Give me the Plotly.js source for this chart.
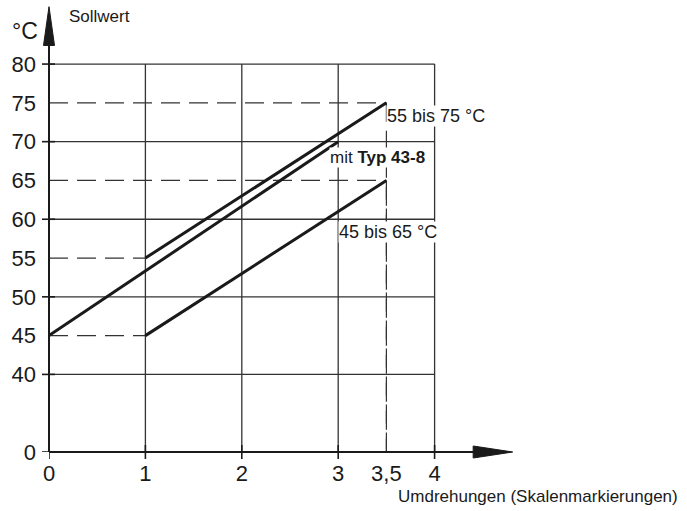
<!DOCTYPE html>
<html>
<head>
<meta charset="utf-8">
<script src="https://cdn.plot.ly/plotly-3.0.1.min.js"></script>
<style>
html,body{margin:0;padding:0;background:#fff;}
#chart{width:687px;height:511px;}
</style>
</head>
<body>
<div id="chart"></div>
<script>
// ---- data ----
const xTickVals = [0, 1, 2, 3, 3.5, 4];
const xTickText = ['0', '1', '2', '3', '3,5', '4'];
const yZeroPos = 30; // broken axis: "0" drawn at this position
const yTickVals = [30, 40, 45, 50, 55, 60, 65, 70, 75, 80];
const yTickText = ['0', '40', '45', '50', '55', '60', '65', '70', '75', '80'];
const gridX = [1, 2, 3, 4];
const gridY = [40, 50, 60, 70, 80];
const majorTicksX = [0, 1, 2, 3, 4];
const majorTicksY = [30, 40, 50, 60, 70, 80];

const seriesNames = ['55 bis 75 °C', 'mit Typ 43-8', '45 bis 65 °C'];
const seriesX = [[1, 3.5], [0, 3], [1, 3.5]];
const seriesY = [[55, 75], [45, 70], [45, 65]];
const guideSeries = [0, 2]; // series with dashed reference lines

const labelText = ['55 bis 75 °C', 'mit <b>Typ 43-8</b>', '45 bis 65 °C'];
const labelX = [3.5, 2.9, 3.0];
const labelY = [73.3, 67.9, 58.4];

// ---- build ----
const FONT = 'Liberation Sans, Arial, sans-serif';
const INK = '#1a1a1a';
const GRID = '#333333';
const traces = [];

// dashed reference lines
guideSeries.forEach(i => {
  const xs = seriesX[i], ys = seriesY[i];
  const dash = {color: GRID, width: 1.2, dash: '19px,9px'};
  traces.push({x: [0, xs[0]], y: [ys[0], ys[0]], mode: 'lines', line: dash, hoverinfo: 'skip', showlegend: false});
  traces.push({x: [0, xs[1]], y: [ys[1], ys[1]], mode: 'lines', line: dash, hoverinfo: 'skip', showlegend: false});
  traces.push({x: [xs[1], xs[1]], y: [ys[1], yZeroPos], mode: 'lines', line: dash, hoverinfo: 'skip', showlegend: false});
});

// data lines
seriesNames.forEach((n, i) => {
  traces.push({x: seriesX[i], y: seriesY[i], name: n, mode: 'lines',
    line: {color: INK, width: 3}, showlegend: false, hoverinfo: 'skip'});
});

const shapes = [];
// grid
gridX.forEach(v => shapes.push({type: 'line', layer: 'below', xref: 'x', yref: 'y', x0: v, x1: v, y0: yZeroPos, y1: 80, line: {color: GRID, width: 1.3}}));
gridY.forEach(v => shapes.push({type: 'line', layer: 'below', xref: 'x', yref: 'y', x0: 0, x1: 4, y0: v, y1: v, line: {color: GRID, width: 1.3}}));
// axes (paper refs on the perpendicular direction so nothing is clipped)
shapes.push({type: 'line', xref: 'paper', yref: 'y', x0: 0, x1: 0, y0: yZeroPos, y1: 83, line: {color: INK, width: 2}});
shapes.push({type: 'line', xref: 'x', yref: 'paper', x0: 0, x1: 4.45, y0: 0, y1: 0, line: {color: INK, width: 2}});
// arrowheads
shapes.push({type: 'path', xref: 'paper', yref: 'y', xsizemode: 'pixel', xanchor: 0, path: 'M -5.5 82.4 L 5.5 82.4 L 0 87.4 Z', fillcolor: INK, line: {color: INK, width: 1}});
shapes.push({type: 'path', xref: 'x', yref: 'paper', ysizemode: 'pixel', yanchor: 0, path: 'M 4.4 6 L 4.4 -6 L 4.81 0 Z', fillcolor: INK, line: {color: INK, width: 1}});
// ticks
majorTicksX.forEach(v => shapes.push({type: 'line', xref: 'x', yref: 'paper', ysizemode: 'pixel', yanchor: 0, x0: v, x1: v, y0: -7, y1: 7, line: {color: INK, width: 1.6}}));
majorTicksY.forEach(v => shapes.push({type: 'line', xref: 'paper', yref: 'y', xsizemode: 'pixel', xanchor: 0, x0: -7, x1: 6, y0: v, y1: v, line: {color: INK, width: 1.6}}));

const annotations = [];
labelText.forEach((t, i) => annotations.push({
  x: labelX[i], y: labelY[i], xref: 'x', yref: 'y', text: t, showarrow: false,
  xanchor: 'left', yanchor: 'middle', bgcolor: '#ffffff', borderpad: 0,
  font: {family: FONT, size: i === 1 ? 17 : 18, color: INK}
}));
annotations.push({x: 0.0373, y: 0.967, xref: 'paper', yref: 'paper', text: 'Sollwert', showarrow: false, xanchor: 'left', yanchor: 'middle', font: {family: FONT, size: 17, color: INK}});
annotations.push({x: -0.081, y: 0.935, xref: 'paper', yref: 'paper', text: '°C', showarrow: false, xanchor: 'left', yanchor: 'middle', font: {family: FONT, size: 23, color: INK}});
annotations.push({x: 1.309, y: -0.098, xref: 'paper', yref: 'paper', text: 'Umdrehungen (Skalenmarkierungen)', showarrow: false, xanchor: 'right', yanchor: 'middle', font: {family: FONT, size: 17, color: INK}});

const layout = {
  width: 687, height: 511,
  margin: {l: 49, r: 156, t: 2, b: 59},
  paper_bgcolor: '#fff', plot_bgcolor: '#fff',
  showlegend: false,
  xaxis: {range: [0, 5], showgrid: false, zeroline: false, showline: false, ticks: '',
    tickmode: 'array', tickvals: xTickVals, ticktext: xTickText,
    tickfont: {family: FONT, size: 22, color: INK}, ticklabelstandoff: 6, fixedrange: true},
  yaxis: {range: [yZeroPos, 88], showgrid: false, zeroline: false, showline: false, ticks: '',
    tickmode: 'array', tickvals: yTickVals, ticktext: yTickText,
    tickfont: {family: FONT, size: 22, color: INK}, ticklabelstandoff: 12, fixedrange: true},
  shapes: shapes,
  annotations: annotations
};

Plotly.newPlot('chart', traces, layout, {displayModeBar: false, staticPlot: true});
</script>
</body>
</html>
